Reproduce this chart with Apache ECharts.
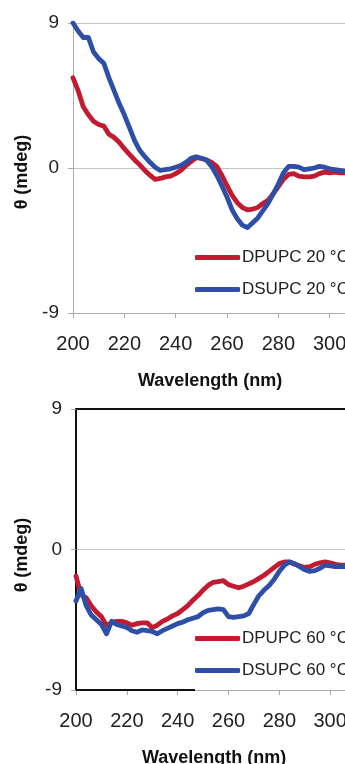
<!DOCTYPE html>
<html>
<head>
<meta charset="utf-8">
<script src="https://cdn.jsdelivr.net/npm/echarts@6/dist/echarts.min.js"></script>
<style>
html,body{margin:0;padding:0;background:#fff;}
#chart{width:345px;height:764px;}
</style>
</head>
<body>
<div id="chart"></div>
<script>
// Wavelengths (nm)
const wavelengths = [200,202,204,206,208,210,212,214,216,218,220,222,224,226,228,230,232,234,236,238,240,242,244,246,248,250,252,254,256,258,260,262,264,266,268,270,272,274,276,278,280,282,284,286,288,290,292,294,296,298,300,302,304,306];
// θ (mdeg) at 20 °C
const dpupc20 = [5.6,4.8,3.8,3.3,2.9,2.7,2.6,2.1,1.9,1.6,1.2,0.85,0.5,0.2,-0.15,-0.45,-0.7,-0.65,-0.55,-0.5,-0.35,-0.15,0.15,0.4,0.65,0.6,0.5,0.35,0.1,-0.45,-1.1,-1.7,-2.15,-2.45,-2.6,-2.55,-2.45,-2.2,-2.0,-1.6,-1.15,-0.7,-0.4,-0.35,-0.5,-0.55,-0.55,-0.5,-0.35,-0.25,-0.3,-0.25,-0.3,-0.3];
const dsupc20 = [9.0,8.5,8.1,8.1,7.2,6.8,6.5,5.6,4.8,4.0,3.3,2.5,1.7,1.1,0.7,0.35,0.05,-0.15,-0.1,-0.05,0.05,0.15,0.35,0.6,0.7,0.6,0.5,0.1,-0.45,-1.1,-1.8,-2.6,-3.15,-3.55,-3.7,-3.4,-3.1,-2.65,-2.2,-1.6,-1.0,-0.3,0.1,0.1,0.05,-0.1,-0.05,0.0,0.1,0.05,-0.05,-0.1,-0.15,-0.2];
// θ (mdeg) at 60 °C
const dpupc60 = [-1.7,-2.9,-3.1,-3.6,-4.0,-4.3,-4.85,-4.7,-4.6,-4.6,-4.7,-4.85,-4.75,-4.7,-4.7,-5.0,-4.85,-4.6,-4.45,-4.25,-4.1,-3.85,-3.6,-3.25,-2.95,-2.6,-2.3,-2.1,-2.05,-2.0,-2.25,-2.35,-2.45,-2.35,-2.2,-2.05,-1.85,-1.65,-1.4,-1.15,-0.9,-0.8,-0.8,-0.95,-1.05,-1.15,-1.1,-0.95,-0.85,-0.8,-0.85,-0.95,-1.0,-1.0];
const dsupc60 = [-3.3,-2.5,-3.6,-4.2,-4.5,-4.8,-5.4,-4.6,-4.8,-4.9,-5.0,-5.2,-5.3,-5.15,-5.2,-5.25,-5.4,-5.2,-5.05,-4.9,-4.75,-4.65,-4.5,-4.4,-4.3,-4.05,-3.9,-3.85,-3.8,-3.85,-4.3,-4.35,-4.3,-4.25,-4.1,-3.5,-2.95,-2.6,-2.3,-1.9,-1.4,-1.0,-0.8,-0.9,-1.1,-1.3,-1.4,-1.35,-1.2,-1.0,-1.05,-1.1,-1.1,-1.1];
// Axis ticks
const xTicks = {min: 200, max: 320, interval: 20};
const yTicks = {min: -9, max: 9, interval: 9};
const seriesNames = ['DPUPC 20 °C','DSUPC 20 °C','DPUPC 60 °C','DSUPC 60 °C'];

const RED = '#c41a30';
const BLUE = '#2d4fa8';
const FONT = "'Liberation Sans', Arial, sans-serif";
const pair = ys => wavelengths.map((w,i) => [w, ys[i]]);

const chart = echarts.init(document.getElementById('chart'), null, {renderer:'canvas'});

function xAxisDef(gridIndex){
  return {
    type:'value', gridIndex, min:xTicks.min, max:xTicks.max, interval:xTicks.interval,
    axisLine:{show:true, onZero:false, lineStyle:{color:'#aaaaaa', width:1}},
    axisTick:{show:true, length:5, lineStyle:{color:'#aaaaaa'}},
    axisLabel:{fontSize:20, color:'#222', fontFamily:FONT, margin:21, hideOverlap:false},
    splitLine:{show:false}
  };
}
function yAxisDef(gridIndex, axisColor, axisWidth){
  return {
    type:'value', gridIndex, min:yTicks.min, max:yTicks.max, interval:yTicks.interval,
    axisLine:{show:true, onZero:false, lineStyle:{color:axisColor, width:axisWidth}},
    axisTick:{show:true, length:5, lineStyle:{color:'#aaaaaa'}},
    axisLabel:{fontSize:19, color:'#222', fontFamily:FONT, margin:14},
    splitLine:{show:true, lineStyle:{color:'#c4c4c4', width:1}}
  };
}

const lineSeries = (name, ys, xi, yi, color) => ({
  name, type:'line', xAxisIndex:xi, yAxisIndex:yi, data:pair(ys),
  showSymbol:false, symbol:'none', smooth:false, z:3,
  lineStyle:{color, width:4.8, join:'round', cap:'round'},
  itemStyle:{color}
});

const legendStyle = (top, data) => ({
  orient:'vertical', left:195, top, data, padding:0,
  icon:'roundRect', itemWidth:45, itemHeight:5, itemGap:15,
  textStyle:{fontSize:17, color:'#222', fontFamily:FONT, padding:[0,0,0,-3]},
  selectedMode:false
});

chart.setOption({
  backgroundColor:'#fff',
  animation:false,
  grid:[
    {left:73, top:23, width:308, height:290, containLabel:false, outerBoundsMode:'none'},
    {left:76, top:409, width:305, height:281, containLabel:false, outerBoundsMode:'none'}
  ],
  xAxis:[
    xAxisDef(0),
    xAxisDef(1),
    {type:'value', gridIndex:1, position:'top', min:xTicks.min, max:xTicks.max,
     axisLine:{show:true, onZero:false, lineStyle:{color:'#111', width:2}},
     axisTick:{show:false}, axisLabel:{show:false}, splitLine:{show:false}}
  ],
  yAxis:[
    yAxisDef(0, '#aaaaaa', 1),
    yAxisDef(1, '#111111', 2)
  ],
  legend:[
    legendStyle(249, [seriesNames[0], seriesNames[1]]),
    legendStyle(630, [seriesNames[2], seriesNames[3]])
  ],
  series:[
    lineSeries(seriesNames[0], dpupc20, 0, 0, RED),
    lineSeries(seriesNames[1], dsupc20, 0, 0, BLUE),
    lineSeries(seriesNames[2], dpupc60, 1, 1, RED),
    lineSeries(seriesNames[3], dsupc60, 1, 1, BLUE)
  ],
  graphic:[
    {type:'text', left:138, top:372, style:{text:'Wavelength (nm)', fill:'#111', font:"bold 18px 'Liberation Sans', Arial, sans-serif"}},
    {type:'text', left:142, top:749, style:{text:'Wavelength (nm)', fill:'#111', font:"bold 18px 'Liberation Sans', Arial, sans-serif"}},
    {type:'text', x:22, y:172, rotation:Math.PI/2, style:{text:'θ (mdeg)', fill:'#111', font:"bold 18px 'Liberation Sans', Arial, sans-serif", align:'center', verticalAlign:'middle'}},
    {type:'text', x:22, y:555, rotation:Math.PI/2, style:{text:'θ (mdeg)', fill:'#111', font:"bold 18px 'Liberation Sans', Arial, sans-serif", align:'center', verticalAlign:'middle'}},
    {type:'line', shape:{x1:76, y1:690, x2:195, y2:690}, style:{stroke:'#111', lineWidth:2}, z:10}
  ]
});
</script>
</body>
</html>
